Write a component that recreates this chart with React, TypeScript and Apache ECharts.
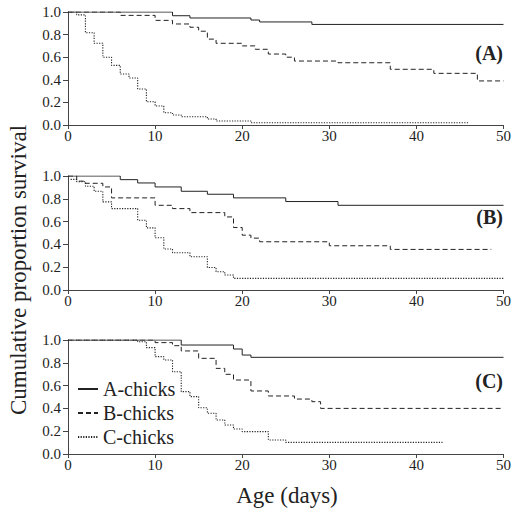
import React, { useEffect, useRef } from "react";
import * as echarts from "echarts";

// Tick labels / axes
const xTicks = [0, 10, 20, 30, 40, 50];
const yTicks = [0, 0.2, 0.4, 0.6, 0.8, 1.0];
const groupNames = ["A-chicks", "B-chicks", "C-chicks"];
const panelLabels = ["(A)", "(B)", "(C)"];

// Panel A
const pA_A_days = [0, 12, 14, 21, 22, 28, 50];
const pA_A_surv = [1, 0.967, 0.947, 0.929, 0.912, 0.89, 0.89];
const pA_B_days = [0, 6, 10, 12, 14, 15, 16, 17, 20, 21.5, 23, 25, 26, 31, 37, 42, 47, 50];
const pA_B_surv = [1, 0.97, 0.926, 0.894, 0.865, 0.83, 0.76, 0.723, 0.7, 0.67, 0.628, 0.6, 0.566, 0.551, 0.493, 0.457, 0.39, 0.39];
const pA_C_days = [0, 1, 2, 3, 4, 5, 6, 7, 8, 9, 10, 11, 12, 13, 16, 17, 21, 46];
const pA_C_surv = [1, 0.975, 0.817, 0.723, 0.6, 0.528, 0.451, 0.416, 0.319, 0.206, 0.168, 0.109, 0.088, 0.073, 0.053, 0.035, 0.02, 0.02];

// Panel B
const pB_A_days = [0, 6, 8, 10, 13, 16, 19, 25, 31, 50];
const pB_A_surv = [1, 0.968, 0.939, 0.904, 0.866, 0.84, 0.808, 0.776, 0.743, 0.743];
const pB_B_days = [0, 1, 2, 4, 5, 10, 12, 14, 18, 19, 20, 21, 22, 30, 37, 48.6];
const pB_B_surv = [1, 0.955, 0.936, 0.904, 0.808, 0.743, 0.714, 0.679, 0.641, 0.548, 0.481, 0.455, 0.423, 0.388, 0.356, 0.356];
const pB_C_days = [0.3, 1, 2, 3, 4, 5, 8, 9, 10, 11, 12, 14, 16, 17, 18, 19, 50];
const pB_C_surv = [0.97, 0.95, 0.91, 0.866, 0.773, 0.714, 0.612, 0.545, 0.458, 0.359, 0.327, 0.292, 0.198, 0.16, 0.131, 0.102, 0.102];

// Panel C
const pC_A_days = [0, 13, 19, 20, 21, 50];
const pC_A_surv = [1, 0.956, 0.921, 0.868, 0.848, 0.848];
const pC_B_days = [0, 10, 12, 13, 15, 17, 18, 19, 21, 23, 26, 28, 29, 50];
const pC_B_surv = [1, 0.977, 0.95, 0.904, 0.839, 0.751, 0.699, 0.649, 0.553, 0.509, 0.482, 0.459, 0.4, 0.4];
const pC_C_days = [0, 8, 9, 10, 11, 12, 13, 14, 15, 16, 17, 18, 19, 20, 23, 25, 43];
const pC_C_surv = [1, 0.985, 0.933, 0.854, 0.825, 0.722, 0.547, 0.503, 0.406, 0.357, 0.298, 0.254, 0.219, 0.196, 0.123, 0.102, 0.102];

const panels = [
  [[pA_A_days, pA_A_surv], [pA_B_days, pA_B_surv], [pA_C_days, pA_C_surv]],
  [[pB_A_days, pB_A_surv], [pB_B_days, pB_B_surv], [pB_C_days, pB_C_surv]],
  [[pC_A_days, pC_A_surv], [pC_B_days, pC_B_surv], [pC_C_days, pC_C_surv]],
];

const FONT = "'Times New Roman', 'Liberation Serif', Times, serif";
const INK = "#222";
const AXIS = "#444";
const lineTypes: any[] = ["solid", [5, 3], [1.2, 1.4]];
const gridTops = [12, 176, 340];
const gridHeights = [113, 114, 114];

export default function App() {
  const ref = useRef<HTMLDivElement>(null);
  useEffect(() => {
    if (!ref.current) return;
    const chart = echarts.init(ref.current, null, { renderer: "svg" });
    const grids = gridTops.map((t, i) => ({ left: 68, right: 7, top: t, height: gridHeights[i], containLabel: false }));
    const xAxes = gridTops.map((_, i) => ({
      type: "value",
      gridIndex: i,
      min: xTicks[0],
      max: xTicks[xTicks.length - 1],
      interval: 10,
      axisLine: { show: true, lineStyle: { color: AXIS, width: 1 } },
      axisTick: { show: true, length: 4, inside: false, lineStyle: { color: AXIS } },
      axisLabel: { color: INK, fontFamily: FONT, fontSize: 15, margin: 3 },
      splitLine: { show: false },
    }));
    const yAxes = gridTops.map((_, i) => ({
      type: "value",
      gridIndex: i,
      min: yTicks[0],
      max: yTicks[yTicks.length - 1],
      interval: 0.2,
      axisLine: { show: true, lineStyle: { color: AXIS, width: 1 } },
      axisTick: { show: true, length: 5, inside: false, lineStyle: { color: AXIS } },
      axisLabel: { color: INK, fontFamily: FONT, fontSize: 15, margin: 7, formatter: (v: number) => v.toFixed(1) },
      splitLine: { show: false },
    }));
    const series: any[] = [];
    panels.forEach((panel, p) => {
      panel.forEach(([days, surv], g) => {
        series.push({
          type: "line",
          name: groupNames[g],
          xAxisIndex: p,
          yAxisIndex: p,
          step: "end",
          symbol: "none",
          showSymbol: false,
          data: days.map((d, i) => [d, surv[i]]),
          lineStyle: { color: INK, width: g === 2 ? 1.1 : 1, type: lineTypes[g] },
          itemStyle: { color: INK },
          z: 3 - g,
        });
      });
    });
    const graphics: any[] = panelLabels.map((lab, i) => ({
      type: "text",
      x: 503,
      y: gridTops[i] + 41,
      style: { text: lab, fill: INK, font: `bold 20px ${FONT}`, textAlign: "right", textVerticalAlign: "middle" },
    }));
    graphics.push({
      type: "text",
      x: 18,
      y: 270,
      rotation: Math.PI / 2,
      style: { text: "Cumulative proportion survival", fill: INK, font: `23px ${FONT}`, textAlign: "center", textVerticalAlign: "middle" },
    });
    graphics.push({
      type: "text",
      x: 287,
      y: 495,
      style: { text: "Age (days)", fill: INK, font: `23px ${FONT}`, textAlign: "center", textVerticalAlign: "middle" },
    });
    chart.setOption({
      animation: false,
      backgroundColor: "#fff",
      grid: grids,
      xAxis: xAxes,
      yAxis: yAxes,
      legend: {
        data: groupNames,
        orient: "vertical",
        left: 72,
        top: 374,
        itemWidth: 20,
        itemHeight: 10,
        itemGap: 4,
        itemStyle: { color: "rgba(0,0,0,0)", borderWidth: 0, borderColor: "rgba(0,0,0,0)" },
        textStyle: { color: INK, fontFamily: FONT, fontSize: 20 },
      },
      series,
      graphic: graphics,
    });
    return () => chart.dispose();
  }, []);
  return <div ref={ref} style={{ position: "absolute", left: 0, top: 0, width: 514, height: 512 }} />;
}
